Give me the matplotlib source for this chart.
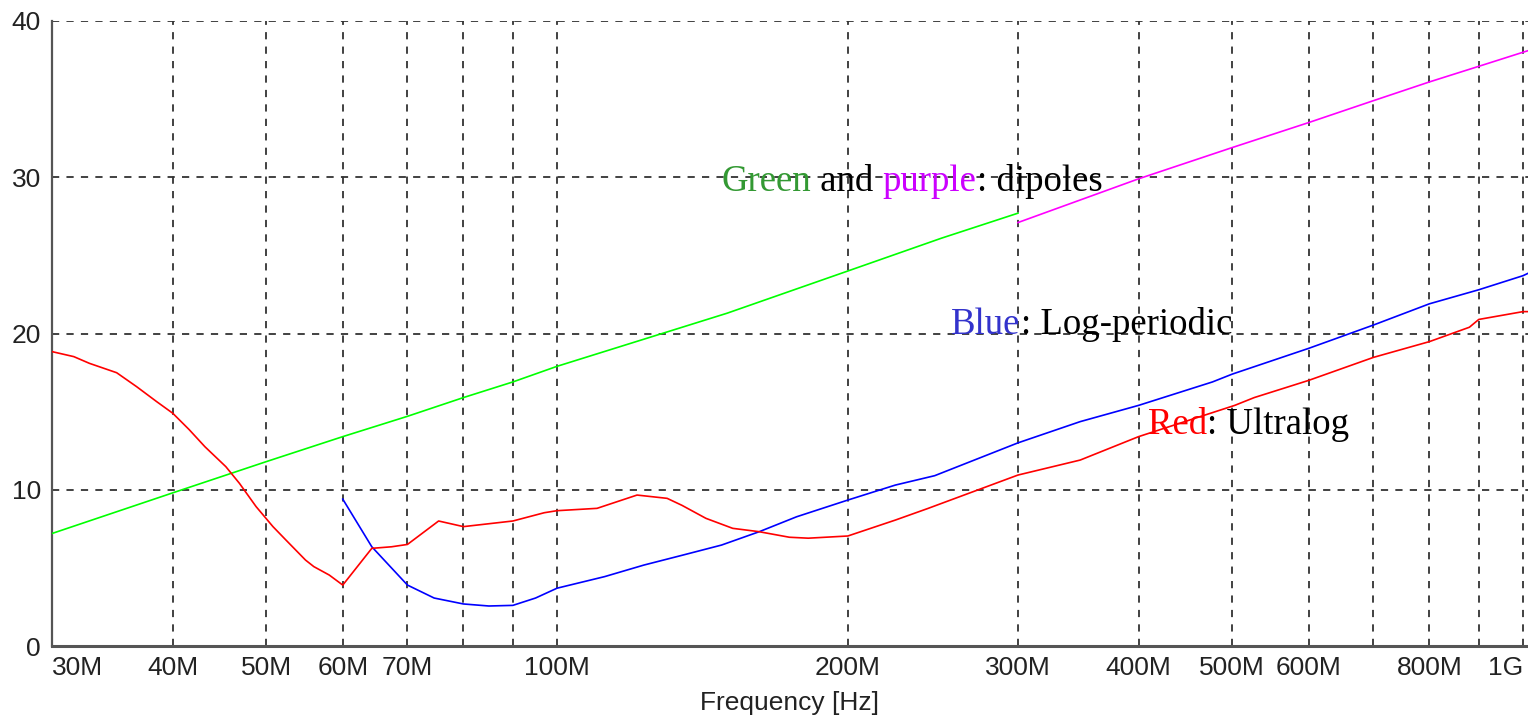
import numpy as np
import matplotlib
matplotlib.use("Agg")
import matplotlib.pyplot as plt
from matplotlib.ticker import NullLocator

# frequencies in MHz
green_f = [30, 40, 50, 60, 70, 80, 90, 100, 150, 200, 250, 300]
green_v = [7.2, 9.8, 11.8, 13.4, 14.7, 15.9, 16.9, 17.9, 21.3, 24.0, 26.1, 27.7]

purple_f = [300, 400, 500, 600, 700, 800, 900, 1000, 1012]
purple_v = [27.1, 29.9, 31.9, 33.5, 34.9, 36.1, 37.1, 38.0, 38.1]

blue_f = [60, 64.3, 70, 74.6, 80, 85, 90, 95, 100, 112, 123, 135, 148, 162,
          177, 200, 224, 246, 300, 348, 400, 477, 500, 600, 700, 800, 900,
          1000, 1012]
blue_v = [9.4, 6.35, 3.9, 3.07, 2.69, 2.56, 2.6, 3.07, 3.7, 4.44, 5.18, 5.82,
          6.46, 7.32, 8.27, 9.34, 10.3, 10.9, 13.0, 14.36, 15.4, 16.9, 17.4,
          19.05, 20.54, 21.9, 22.8, 23.7, 23.85]

red_f = [30, 31.6, 32.8, 35, 36.7, 38.5, 40, 41.6, 43.2, 45.4, 46.9, 48.8,
         50.8, 52.4, 54.9, 56, 58.1, 60, 64.3, 67.4, 70, 75.4, 80, 90, 97,
         100, 110, 121, 130, 134.7, 142.6, 152, 161.7, 174, 182, 200, 224,
         242, 300, 348, 400, 503, 527, 600, 700, 800, 880, 900, 1000, 1012]
red_v = [18.84, 18.52, 18.09, 17.49, 16.6, 15.64, 14.9, 13.85, 12.75, 11.48,
         10.41, 8.92, 7.64, 6.78, 5.5, 5.08, 4.54, 3.9, 6.25, 6.35, 6.5, 8.0,
         7.64, 8.0, 8.53, 8.66, 8.81, 9.66, 9.45, 9.0, 8.17, 7.53, 7.32, 6.96,
         6.9, 7.04, 8.06, 8.8, 10.94, 11.9, 13.4, 15.4, 15.9, 17.0, 18.47,
         19.48, 20.4, 20.9, 21.4, 21.4]

grid_f = [40, 50, 60, 70, 80, 90, 100, 200, 300, 400, 500, 600, 700, 800, 900, 1000]
grid_lbl = ["40M", "50M", "60M", "70M", "", "", "100M", "200M", "300M",
            "400M", "500M", "600M", "", "800M", "", "1G"]
yticks = [0, 10, 20, 30, 40]

def hz(f):
    return np.array(f) * 1e6

fig = plt.figure(figsize=(15.28, 7.26), dpi=100)
ax = fig.add_axes([52 / 1528, 80 / 726, 1476 / 1528, 625 / 726])
ax.set_xscale("log")
ax.set_xlim(30e6, 1.012e9)
ax.set_ylim(0, 40)

ax.plot(hz(green_f), green_v, color="#00ff00", lw=1.2, zorder=3)
ax.plot(hz(purple_f), purple_v, color="#ff00ff", lw=1.2, zorder=3)
ax.plot(hz(blue_f), blue_v, color="#0000ff", lw=1.2, zorder=3)
ax.plot(hz(red_f), red_v, color="#ff0000", lw=1.2, zorder=3)

# ticks / grid
ax.set_xticks(hz([30] + grid_f), ["30M"] + grid_lbl)
ax.xaxis.set_minor_locator(NullLocator())
ax.set_yticks(yticks)
ax.tick_params(length=0, labelsize=19, colors="#222222")
ax.tick_params(axis="x", pad=7)
ax.tick_params(axis="y", pad=8)
for lab in ax.get_xticklabels() + ax.get_yticklabels():
    lab.set_family("Liberation Sans")
xl = ax.get_xticklabels()
xl[0].set_ha("left")
xl[-1].set_ha("right")

ax.grid(True, color="#333333", linestyle=(0, (4, 4)), linewidth=1.3)
ax.set_axisbelow(True)
for s in ["top", "right"]:
    ax.spines[s].set_visible(False)
ax.spines["left"].set_color("#555555")
ax.spines["left"].set_linewidth(1.6)
ax.spines["bottom"].set_color("#555555")
ax.spines["bottom"].set_linewidth(2.2)

ax.set_xlabel("Frequency [Hz]", fontsize=19, family="Liberation Sans",
              color="#222222", labelpad=8)


def colored_text(x, y, parts):
    t = ax.text(x, y, parts[0][0], color=parts[0][1], fontsize=26.5,
                family="Liberation Serif", va="baseline", zorder=6)
    for s, c in parts[1:]:
        t = ax.annotate(s, xy=(1, 0), xycoords=t, va="bottom", ha="left",
                        color=c, fontsize=26.5, family="Liberation Serif",
                        zorder=6)


colored_text(148e6, 29.1, [("Green", "#339933"), (" and ", "black"),
                           ("purple", "#cc00ff"), (": dipoles", "black")])
colored_text(256e6, 20.0, [("Blue", "#3333cc"), (": Log-periodic", "black")])
colored_text(409e6, 13.6, [("Red", "#ff0000"), (": Ultralog", "black")])

fig.savefig("out.png", dpi=100)
